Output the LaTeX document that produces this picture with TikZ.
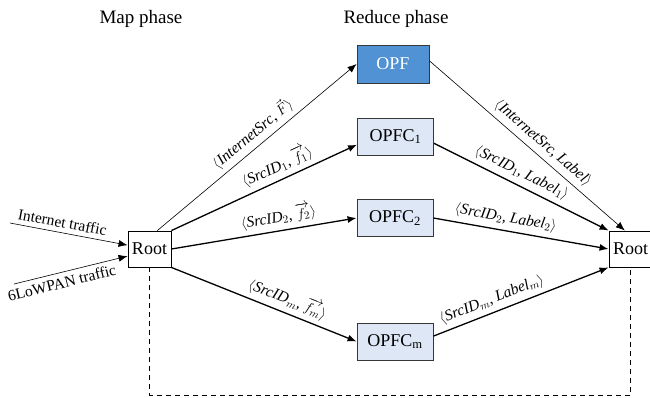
\documentclass[tikz,border=0pt]{standalone}
\usepackage{fontspec}
\setmainfont{Liberation Serif}
\usepackage{amsmath}
\usetikzlibrary{arrows.meta,calc,positioning}
\definecolor{opfblue}{RGB}{80,146,211}
\definecolor{opfcblue}{RGB}{221,231,245}
\definecolor{boxedge}{RGB}{55,55,55}
\newcommand{\itw}[1]{\textit{#1}}

\begin{document}
\begin{tikzpicture}[x=1pt,y=-1pt,>={Latex[length=9pt,width=7pt]},
  box/.style={draw=boxedge,line width=0.9pt,fill=opfcblue,minimum width=76pt,minimum height=37pt,inner sep=0pt,font=\fontsize{18}{20}\selectfont},
  rootbox/.style={draw,line width=0.9pt,fill=white,minimum width=43pt,minimum height=36pt,inner sep=0pt,font=\fontsize{18}{20}\selectfont},
  thinline/.style={->,line width=0.6pt},
  thickline/.style={->,line width=1.3pt},
  tag/.style={sloped,above,inner sep=4.5pt,font=\fontsize{15.5}{17}\selectfont}]
 \clip (0,0) rectangle (650,397);
 \node[font=\fontsize{19}{21}\selectfont] (mapphase) at (141,19) {Map phase};
 \node[font=\fontsize{19}{21}\selectfont] (redphase) at (396,19) {Reduce phase};
 \node[rootbox] (rootL) at (149.5,249) {Root};
 \node[rootbox] (rootR) at (630.5,249) {Root};
 \node[box,fill=opfblue,text=white,minimum width=72pt,minimum height=38pt] (opf) at (393,64) {OPF};
 \node[box] (opfc1) at (395.5,136.5) {OPFC\textsubscript{1}};
 \node[box] (opfc2) at (395,218) {OPFC\textsubscript{2}};
 \node[box] (opfcm) at (395,341.5) {OPFC\textsubscript{m}};
 \coordinate (inet) at (10,223);
 \coordinate (lowpan) at (14,284);
 \coordinate (base) at (0,395);
 \draw[thinline] (inet) -- (rootL.170) node[tag,pos=0.43] {Internet traffic};
 \draw[thinline] (lowpan) -- (rootL.198) node[tag,below,pos=0.4] {6LoWPAN traffic};
 % map phase
 \draw[thinline] (rootL.67) -- (opf.west) node[tag,pos=0.52] {$\langle$\itw{InternetSrc}, $\vec{F}\rangle$};
 \draw[thickline] (rootL.north east) -- (opfc1.192) node[tag,pos=0.6] {$\langle$\itw{SrcID}$_1$, $\overrightarrow{f_1}\rangle$};
 \draw[thickline] (rootL.east) -- (opfc2.west) node[tag,pos=0.59] {$\langle$\itw{SrcID}$_2$, $\overrightarrow{f_2}\rangle$};
 \draw[thickline] (rootL.south east) -- (opfcm.west) node[tag,pos=0.6] {$\langle$\itw{SrcID}$_m$, $\overrightarrow{f_m}\rangle$};
 % reduce phase
 \draw[thinline] (opf.5) -- (rootR.107) node[tag,pos=0.54] {$\langle$\itw{InternetSrc}, \itw{Label}$\rangle$};
 \draw[thickline] (opfc1.-10) -- (rootR.north west) node[tag,pos=0.47] {$\langle$\itw{SrcID}$_1$, \itw{Label}$_1\rangle$};
 \draw[thickline] (opfc2.east) -- (rootR.west) node[tag,pos=0.4] {$\langle$\itw{SrcID}$_2$, \itw{Label}$_2\rangle$};
 \draw[thickline] (opfcm.8) -- (rootR.south west) node[tag,pos=0.36] {$\langle$\itw{SrcID}$_m$, \itw{Label}$_m\rangle$};
 \draw[line width=0.8pt,dash pattern=on 5pt off 4pt] (rootL.south) -- (rootL.south |- base) -- (rootR.south |- base) -- (rootR.south);
\end{tikzpicture}
\end{document}
